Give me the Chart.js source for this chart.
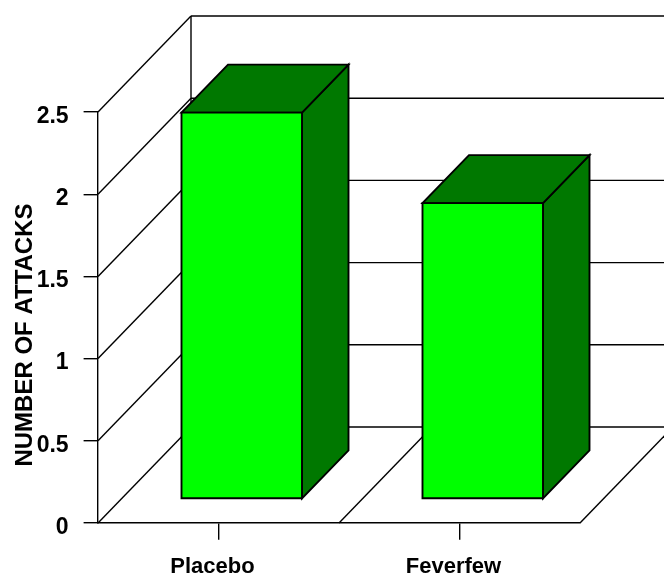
<!DOCTYPE html>
<html>
<head>
<meta charset="utf-8">
<script src="https://cdn.jsdelivr.net/npm/chart.js@4/dist/chart.umd.min.js"></script>
<style>
  html, body { margin: 0; padding: 0; background: #fff; }
  #wrap { width: 664px; height: 575px; position: relative; }
</style>
</head>
<body>
<div id="wrap"><canvas id="c"></canvas></div>
<script>
// Mean number of attacks per treatment group
const categories = ['Placebo', 'Feverfew'];
const attacks = [2.35, 1.8];
const yTickValues = [0, 0.5, 1, 1.5, 2, 2.5];
const yTickLabels = ['0', '0.5', '1', '1.5', '2', '2.5'];
const yTitle = 'NUMBER OF ATTACKS';

// Oblique projection of the depth axis (front plane -> back wall)
const DEPTH_X = 93;
const DEPTH_Y = -96;
const BAR_NEAR = 0.25;   // fraction of depth where the bar's front face sits
const BAR_FAR = 0.75;    // fraction of depth where the bar's back face sits

const LINE = '#000000';
const FRONT_GREEN = '#00FF00';
const SHADE_GREEN = '#007800';
const WALL_WIDTH = 1.4;
const BAR_EDGE_WIDTH = 1.9;

function line(ctx, x1, y1, x2, y2) {
  ctx.beginPath();
  ctx.moveTo(x1, y1);
  ctx.lineTo(x2, y2);
  ctx.stroke();
}

function poly(ctx, pts, fill) {
  ctx.beginPath();
  ctx.moveTo(pts[0][0], pts[0][1]);
  for (let i = 1; i < pts.length; i++) ctx.lineTo(pts[i][0], pts[i][1]);
  ctx.closePath();
  ctx.fillStyle = fill;
  ctx.fill();
  ctx.stroke();
}

const box3d = {
  id: 'box3d',
  beforeDatasetsDraw(chart) {
    const { ctx, chartArea, scales } = chart;
    const ys = scales.y, xs = scales.x;
    const left = chartArea.left, right = chartArea.right;
    ctx.save();
    ctx.strokeStyle = LINE;
    ctx.lineWidth = WALL_WIDTH;

    // left wall diagonals and back wall grid lines
    yTickValues.forEach(v => {
      const py = ys.getPixelForValue(v);
      line(ctx, left, py, left + DEPTH_X, py + DEPTH_Y);
      line(ctx, left + DEPTH_X, py + DEPTH_Y, right + DEPTH_X, py + DEPTH_Y);
    });
    const top = ys.getPixelForValue(yTickValues[yTickValues.length - 1]);
    const base = ys.getPixelForValue(0);
    // back wall left edge
    line(ctx, left + DEPTH_X, top + DEPTH_Y, left + DEPTH_X, base + DEPTH_Y);

    // floor: category separators and right edge
    const band = (right - left) / categories.length;
    for (let i = 1; i <= categories.length; i++) {
      const px = xs.getPixelForValue(i - 1) + band / 2;
      line(ctx, px, base, px + DEPTH_X, base + DEPTH_Y);
    }

    // axis title
    ctx.fillStyle = '#000';
    ctx.font = 'bold 24px "Liberation Sans", Arial, sans-serif';
    ctx.textAlign = 'center';
    ctx.textBaseline = 'middle';
    ctx.translate(25, 335);
    ctx.rotate(-Math.PI / 2);
    ctx.fillText(yTitle, 0, 0);
    ctx.restore();
  },
  afterDatasetsDraw(chart) {
    const { ctx } = chart;
    const meta = chart.getDatasetMeta(0);
    ctx.save();
    ctx.strokeStyle = LINE;
    ctx.lineWidth = BAR_EDGE_WIDTH;
    ctx.lineJoin = 'miter';
    meta.data.forEach(bar => {
      const p = bar.getProps(['x', 'y', 'base', 'width'], true);
      const ox = DEPTH_X * BAR_NEAR, oy = DEPTH_Y * BAR_NEAR;
      const dx = DEPTH_X * (BAR_FAR - BAR_NEAR), dy = DEPTH_Y * (BAR_FAR - BAR_NEAR);
      const xl = p.x - p.width / 2 + ox, xr = p.x + p.width / 2 + ox;
      const yt = p.y + oy, yb = p.base + oy;
      // side face
      poly(ctx, [[xr, yt], [xr + dx, yt + dy], [xr + dx, yb + dy], [xr, yb]], SHADE_GREEN);
      // top face
      poly(ctx, [[xl, yt], [xr, yt], [xr + dx, yt + dy], [xl + dx, yt + dy]], SHADE_GREEN);
      // front face
      poly(ctx, [[xl, yt], [xr, yt], [xr, yb], [xl, yb]], FRONT_GREEN);
    });
    ctx.restore();
  }
};

new Chart(document.getElementById('c'), {
  type: 'bar',
  data: {
    labels: categories,
    datasets: [{
      data: attacks,
      backgroundColor: 'rgba(0,0,0,0)',
      borderWidth: 0,
      categoryPercentage: 1,
      barPercentage: 0.5
    }]
  },
  options: {
    responsive: true,
    maintainAspectRatio: false,
    animation: false,
    layout: { padding: { top: 112, right: 84, bottom: 0, left: 0 } },
    plugins: { legend: { display: false }, tooltip: { enabled: false } },
    scales: {
      x: {
        afterFit: s => { s.height = 52; },
        grid: { display: true, drawOnChartArea: false, offset: false, drawTicks: true, tickLength: 16.7, color: LINE, lineWidth: WALL_WIDTH },
        border: { display: true, color: LINE, width: WALL_WIDTH },
        ticks: {
          color: '#000',
          padding: 14,
          labelOffset: -6,
          font: { family: '"Liberation Sans", Arial, sans-serif', size: 22, weight: 'bold' }
        }
      },
      y: {
        min: 0,
        max: 2.5,
        afterFit: s => { s.width = 98; },
        afterBuildTicks: s => { s.ticks = yTickValues.map(v => ({ value: v })); },
        grid: { display: true, drawOnChartArea: false, drawTicks: true, tickLength: 14.4, color: LINE, lineWidth: WALL_WIDTH },
        border: { display: true, color: LINE, width: WALL_WIDTH },
        ticks: {
          color: '#000',
          padding: 15,
          labelOffset: 4.5,
          callback: (v, i) => yTickLabels[i],
          font: { family: '"Liberation Sans", Arial, sans-serif', size: 23, weight: 'bold' }
        }
      }
    }
  },
  plugins: [box3d]
});
</script>
</body>
</html>
